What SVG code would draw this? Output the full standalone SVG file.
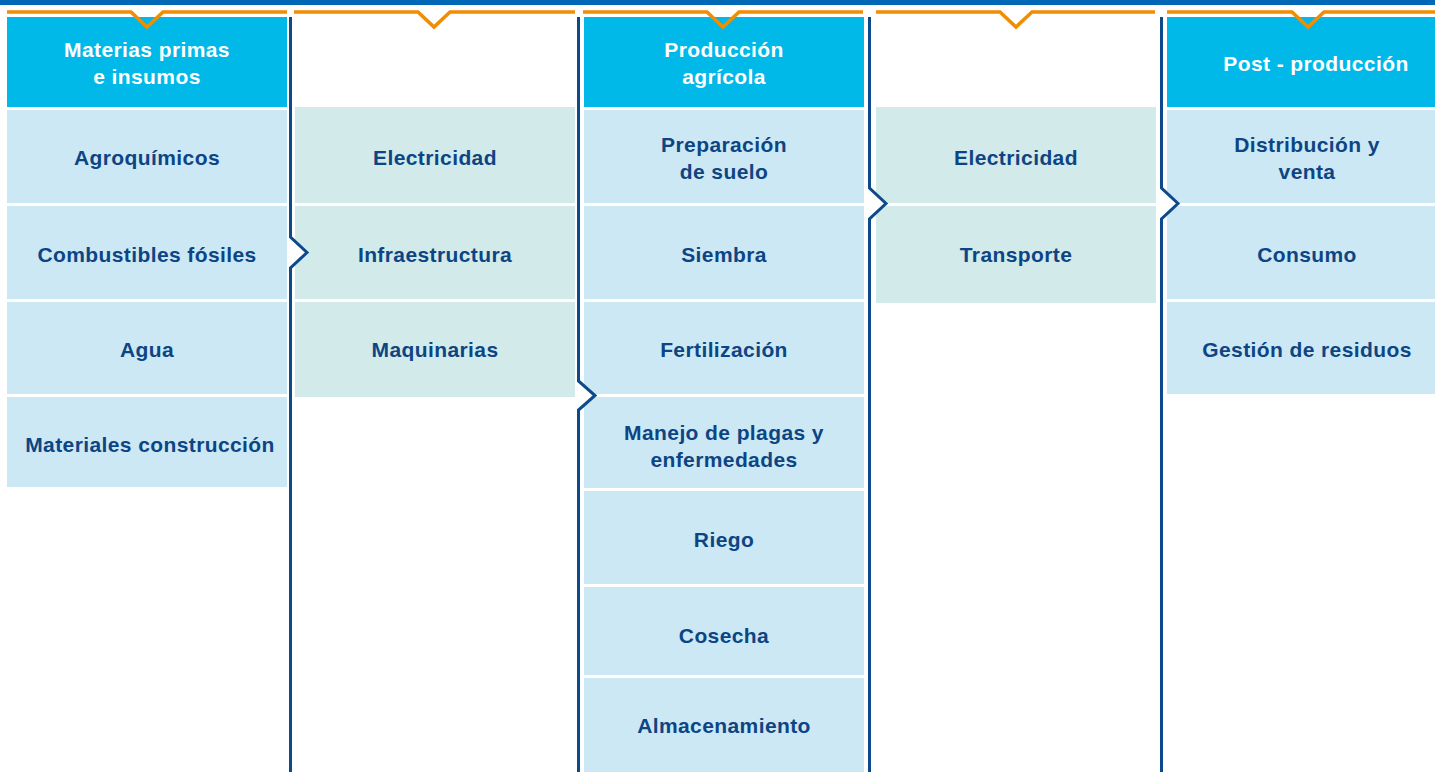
<svg xmlns="http://www.w3.org/2000/svg" width="1435" height="772" viewBox="0 0 1435 772">
  <style>
    .hdr { fill: #00b9e8; }
    .cell { fill: #cce8f4; }
    .cell-alt { fill: #d2eaea; }
    .lbl { font-family: "Liberation Sans", Arial, sans-serif; font-weight: bold; font-size: 21px; letter-spacing: 0.4px; fill: #0d4584; text-anchor: middle; }
    .hlbl { font-family: "Liberation Sans", Arial, sans-serif; font-weight: bold; font-size: 21px; letter-spacing: 0.4px; fill: #ffffff; text-anchor: middle; }
    .tab { fill: none; stroke: #f28c00; stroke-width: 3.5; stroke-linejoin: miter; }
    .divider { fill: none; stroke: #0d4a8c; stroke-width: 3; stroke-linejoin: miter; }
    .notch { fill: #ffffff; stroke: none; }
  </style>

  <rect x="0" y="0" width="1435" height="772" fill="#ffffff"/>
  <!-- top band -->
  <rect x="0" y="0" width="1435" height="5" fill="#0068b4"/>

  <!-- Column 1: Materias primas e insumos -->
  <g id="col-materias">
    <rect class="hdr" x="7" y="17" width="280" height="90"/>
    <path class="tab" d="M7 12 H131 L147 27 L163 12 H287"/>
    <text class="hlbl" x="147" y="57">Materias primas</text>
    <text class="hlbl" x="147" y="84">e insumos</text>
  </g>
  <g id="n-agroquimicos">
    <rect class="cell" x="7" y="110" width="280" height="93"/>
    <text class="lbl" x="147" y="165">Agroquímicos</text>
  </g>
  <g id="n-combustibles">
    <rect class="cell" x="7" y="206" width="280" height="93"/>
    <text class="lbl" x="147" y="262">Combustibles fósiles</text>
  </g>
  <g id="n-agua">
    <rect class="cell" x="7" y="302" width="280" height="92"/>
    <text class="lbl" x="147" y="357">Agua</text>
  </g>
  <g id="n-materiales">
    <rect class="cell" x="7" y="397" width="280" height="90"/>
    <text class="lbl" x="150" y="452">Materiales construcción</text>
  </g>

  <!-- Column 2: infrastructure -->
  <g id="col-infra">
    <path class="tab" d="M294 12 H418 L434 27 L450 12 H575"/>
  </g>
  <g id="n-electricidad-1">
    <rect class="cell-alt" x="295" y="107" width="280" height="96"/>
    <text class="lbl" x="435" y="165">Electricidad</text>
  </g>
  <g id="n-infraestructura">
    <rect class="cell-alt" x="295" y="206" width="280" height="93"/>
    <text class="lbl" x="435" y="262">Infraestructura</text>
  </g>
  <g id="n-maquinarias">
    <rect class="cell-alt" x="295" y="302" width="280" height="95"/>
    <text class="lbl" x="435" y="357">Maquinarias</text>
  </g>

  <!-- Column 3: Producción agrícola -->
  <g id="col-produccion">
    <rect class="hdr" x="584" y="17" width="280" height="90"/>
    <path class="tab" d="M583 12 H707 L723 27 L739 12 H863"/>
    <text class="hlbl" x="724" y="57">Producción</text>
    <text class="hlbl" x="724" y="84">agrícola</text>
  </g>
  <g id="n-preparacion">
    <rect class="cell" x="584" y="110" width="280" height="93"/>
    <text class="lbl" x="724" y="152">Preparación</text>
    <text class="lbl" x="724" y="179">de suelo</text>
  </g>
  <g id="n-siembra">
    <rect class="cell" x="584" y="206" width="280" height="93"/>
    <text class="lbl" x="724" y="262">Siembra</text>
  </g>
  <g id="n-fertilizacion">
    <rect class="cell" x="584" y="302" width="280" height="92"/>
    <text class="lbl" x="724" y="357">Fertilización</text>
  </g>
  <g id="n-manejo">
    <rect class="cell" x="584" y="397" width="280" height="91"/>
    <text class="lbl" x="724" y="440">Manejo de plagas y</text>
    <text class="lbl" x="724" y="467">enfermedades</text>
  </g>
  <g id="n-riego">
    <rect class="cell" x="584" y="491" width="280" height="93"/>
    <text class="lbl" x="724" y="547">Riego</text>
  </g>
  <g id="n-cosecha">
    <rect class="cell" x="584" y="587" width="280" height="88"/>
    <text class="lbl" x="724" y="643">Cosecha</text>
  </g>
  <g id="n-almacenamiento">
    <rect class="cell" x="584" y="678" width="280" height="94"/>
    <text class="lbl" x="724" y="733">Almacenamiento</text>
  </g>

  <!-- Column 4: logistics -->
  <g id="col-logistica">
    <path class="tab" d="M876 12 H1000 L1016 27 L1032 12 H1155"/>
  </g>
  <g id="n-electricidad-2">
    <rect class="cell-alt" x="876" y="107" width="280" height="96"/>
    <text class="lbl" x="1016" y="165">Electricidad</text>
  </g>
  <g id="n-transporte">
    <rect class="cell-alt" x="876" y="206" width="280" height="97"/>
    <text class="lbl" x="1016" y="262">Transporte</text>
  </g>

  <!-- Column 5: Post - producción -->
  <g id="col-post">
    <rect class="hdr" x="1167" y="17" width="268" height="90"/>
    <path class="tab" d="M1167 12 H1292 L1308 27 L1324 12 H1435"/>
    <text class="hlbl" x="1316" y="71">Post - producción</text>
  </g>
  <g id="n-distribucion">
    <rect class="cell" x="1167" y="110" width="268" height="93"/>
    <text class="lbl" x="1307" y="152">Distribución y</text>
    <text class="lbl" x="1307" y="179">venta</text>
  </g>
  <g id="n-consumo">
    <rect class="cell" x="1167" y="206" width="268" height="93"/>
    <text class="lbl" x="1307" y="262">Consumo</text>
  </g>
  <g id="n-gestion">
    <rect class="cell" x="1167" y="302" width="268" height="92"/>
    <text class="lbl" x="1307" y="357">Gestión de residuos</text>
  </g>

  <!-- stage dividers with right-pointing chevrons -->
  <g id="connectors">
    <polygon class="notch" points="290.5,237 307,252.5 290.5,268"/>
    <path class="divider" d="M290.5 17 V237 L307 252.5 L290.5 268 V772"/>
    <polygon class="notch" points="578.5,381 595,395.5 578.5,410"/>
    <path class="divider" d="M578.5 17 V381 L595 395.5 L578.5 410 V772"/>
    <polygon class="notch" points="869.5,188 886,203.5 869.5,219"/>
    <path class="divider" d="M869.5 17 V188 L886 203.5 L869.5 219 V772"/>
    <polygon class="notch" points="1161.5,188 1178,203.5 1161.5,219"/>
    <path class="divider" d="M1161.5 17 V188 L1178 203.5 L1161.5 219 V772"/>
  </g>
</svg>
